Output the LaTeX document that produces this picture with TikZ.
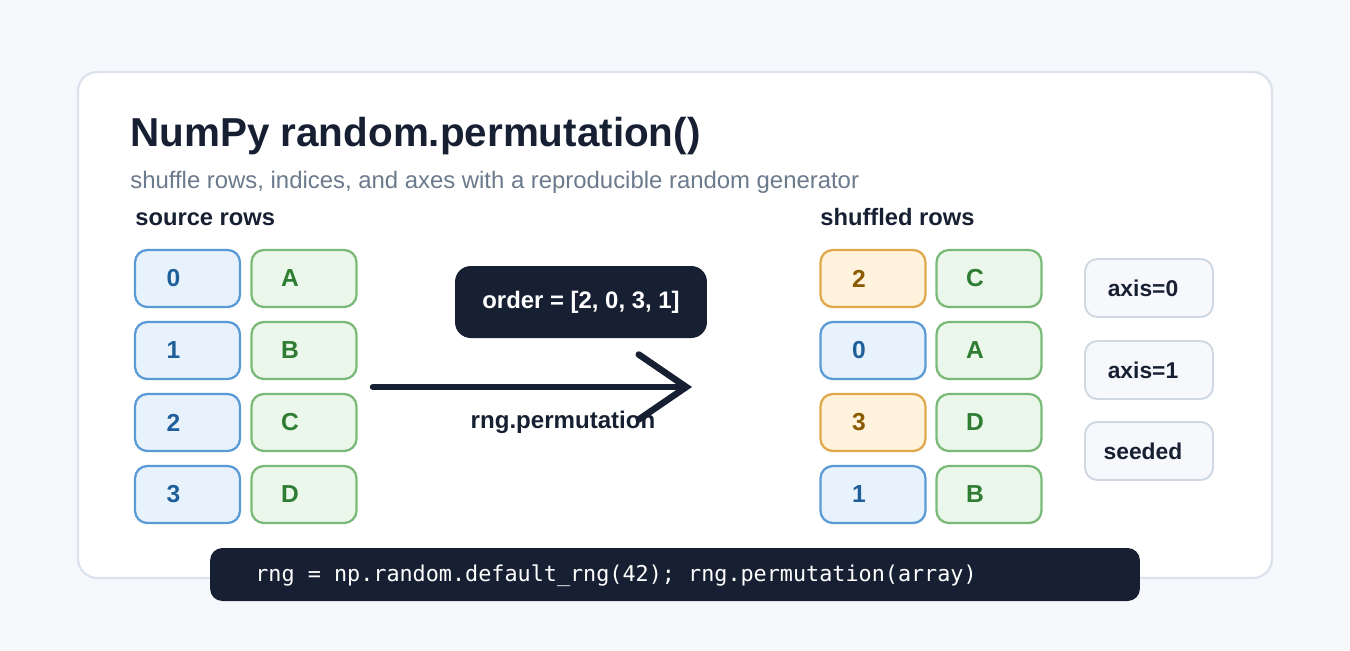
\documentclass[tikz,border=0pt]{standalone}
\usepackage{fontspec}
\setmainfont{Liberation Sans}
\setmonofont{DejaVu Sans Mono}
\usetikzlibrary{arrows.meta}
\definecolor{ink}{HTML}{172033}
\definecolor{pagebg}{HTML}{F6F8FB}
\definecolor{cardline}{HTML}{DDE3EC}
\definecolor{subgray}{HTML}{6B7A8C}
\definecolor{bfill}{HTML}{E8F2FC}\definecolor{bline}{HTML}{5B9BD5}\definecolor{btext}{HTML}{1F5F99}
\definecolor{gfill}{HTML}{EBF7EA}\definecolor{gline}{HTML}{7ABA78}\definecolor{gtext}{HTML}{2E7D32}
\definecolor{ofill}{HTML}{FFF3DD}\definecolor{oline}{HTML}{E0A84A}\definecolor{otext}{HTML}{8A5A00}
\definecolor{tline}{HTML}{CFD8E3}
\tikzset{
  cell/.style={draw, rounded corners=7pt, line width=1.3pt, minimum width=2.1cm, minimum height=1.14cm},
  lbl/.style={xshift=-0.28cm, font=\fontsize{14}{16}\selectfont\bfseries},
  idx/.style={cell, fill=bfill, draw=bline, label={[lbl, text=btext]center:#1}},
  let/.style={cell, fill=gfill, draw=gline, label={[lbl, text=gtext]center:#1}},
  hot/.style={cell, fill=ofill, draw=oline, label={[lbl, text=otext]center:#1}},
  tag/.style={draw=tline, fill=pagebg, rounded corners=7pt, line width=1.1pt, minimum width=2.56cm, minimum height=1.16cm, label={[xshift=-0.12cm, font=\fontsize{13}{15}\selectfont\bfseries, text=ink]center:#1}},
  head/.style={anchor=base west, font=\fontsize{13.5}{15}\selectfont\bfseries, text=ink}
}
\begin{document}
\begin{tikzpicture}[x=0.02cm, y=-0.02cm]
  \useasboundingbox (0,0) rectangle (1350,650);
  \fill[pagebg] (0,0) rectangle (1350,650);
  % Card
  \draw[cardline, fill=white, line width=1.3pt, rounded corners=11pt] (78,72) rectangle (1272,578);
  \node[anchor=base west, inner sep=0, font=\fontsize{23}{27}\selectfont\bfseries, text=ink] (title) at (130,146) {NumPy random.permutation()};
  \node[anchor=base west, inner sep=0, font=\fontsize{13.6}{16}\selectfont, text=subgray] (sub) at (130,188) {shuffle rows, indices, and axes with a reproducible random generator};
  \node[head, inner sep=0] (src) at (135,225) {source rows};
  \node[head, inner sep=0] (dst) at (820,225) {shuffled rows};

  % Source rows
  \node[idx=0] (s0) at (187.5,278.5) {};
  \node[let=A] (sA) at (304,278.5) {};
  \node[idx=1] (s1) at (187.5,350.5) {};
  \node[let=B] (sB) at (304,350.5) {};
  \node[idx=2] (s2) at (187.5,422.5) {};
  \node[let=C] (sC) at (304,422.5) {};
  \node[idx=3] (s3) at (187.5,494.5) {};
  \node[let=D] (sD) at (304,494.5) {};

  % Shuffled rows
  \node[hot=2] (d0) at (873,278.5) {};
  \node[let=C] (dC) at (989,278.5) {};
  \node[idx=0] (d1) at (873,350.5) {};
  \node[let=A] (dA) at (989,350.5) {};
  \node[hot=3] (d2) at (873,422.5) {};
  \node[let=D] (dD) at (989,422.5) {};
  \node[idx=1] (d3) at (873,494.5) {};
  \node[let=B] (dB) at (989,494.5) {};

  % Tags
  \node[tag={axis=0}] (ax0) at (1149,288) {};
  \node[tag={axis=1}] (ax1) at (1149,370) {};
  \node[tag=seeded] (seed) at (1149,451) {};

  % Order and arrow
  \node[fill=ink, rounded corners=9pt, minimum width=5.04cm, minimum height=1.44cm, text=white, font=\fontsize{13.6}{16}\selectfont\bfseries] (order) at (581,302) {order = [2, 0, 3, 1]};
  \coordinate (from) at (373,387);
  \coordinate (to) at (692,387);
  \draw[ink, line width=0.13cm, line cap=round, -{Straight Barb[length=0.95cm, width=1.3cm, line cap=round]}] (from) -- (to);
  \node[font=\fontsize{13.7}{16}\selectfont\bfseries, text=ink] (perm) at (563,422) {rng.permutation};

  % Code bar
  \node[fill=ink, rounded corners=7pt, minimum width=18.6cm, minimum height=1.06cm, inner sep=0] (code) at (675,574.5) {};
  \node[anchor=west, text=white, font=\fontsize{12.4}{14}\ttfamily, inner sep=0] (codetxt) at (255,576) {rng = np.random.default\_rng(42); rng.permutation(array)};
\end{tikzpicture}
\end{document}
